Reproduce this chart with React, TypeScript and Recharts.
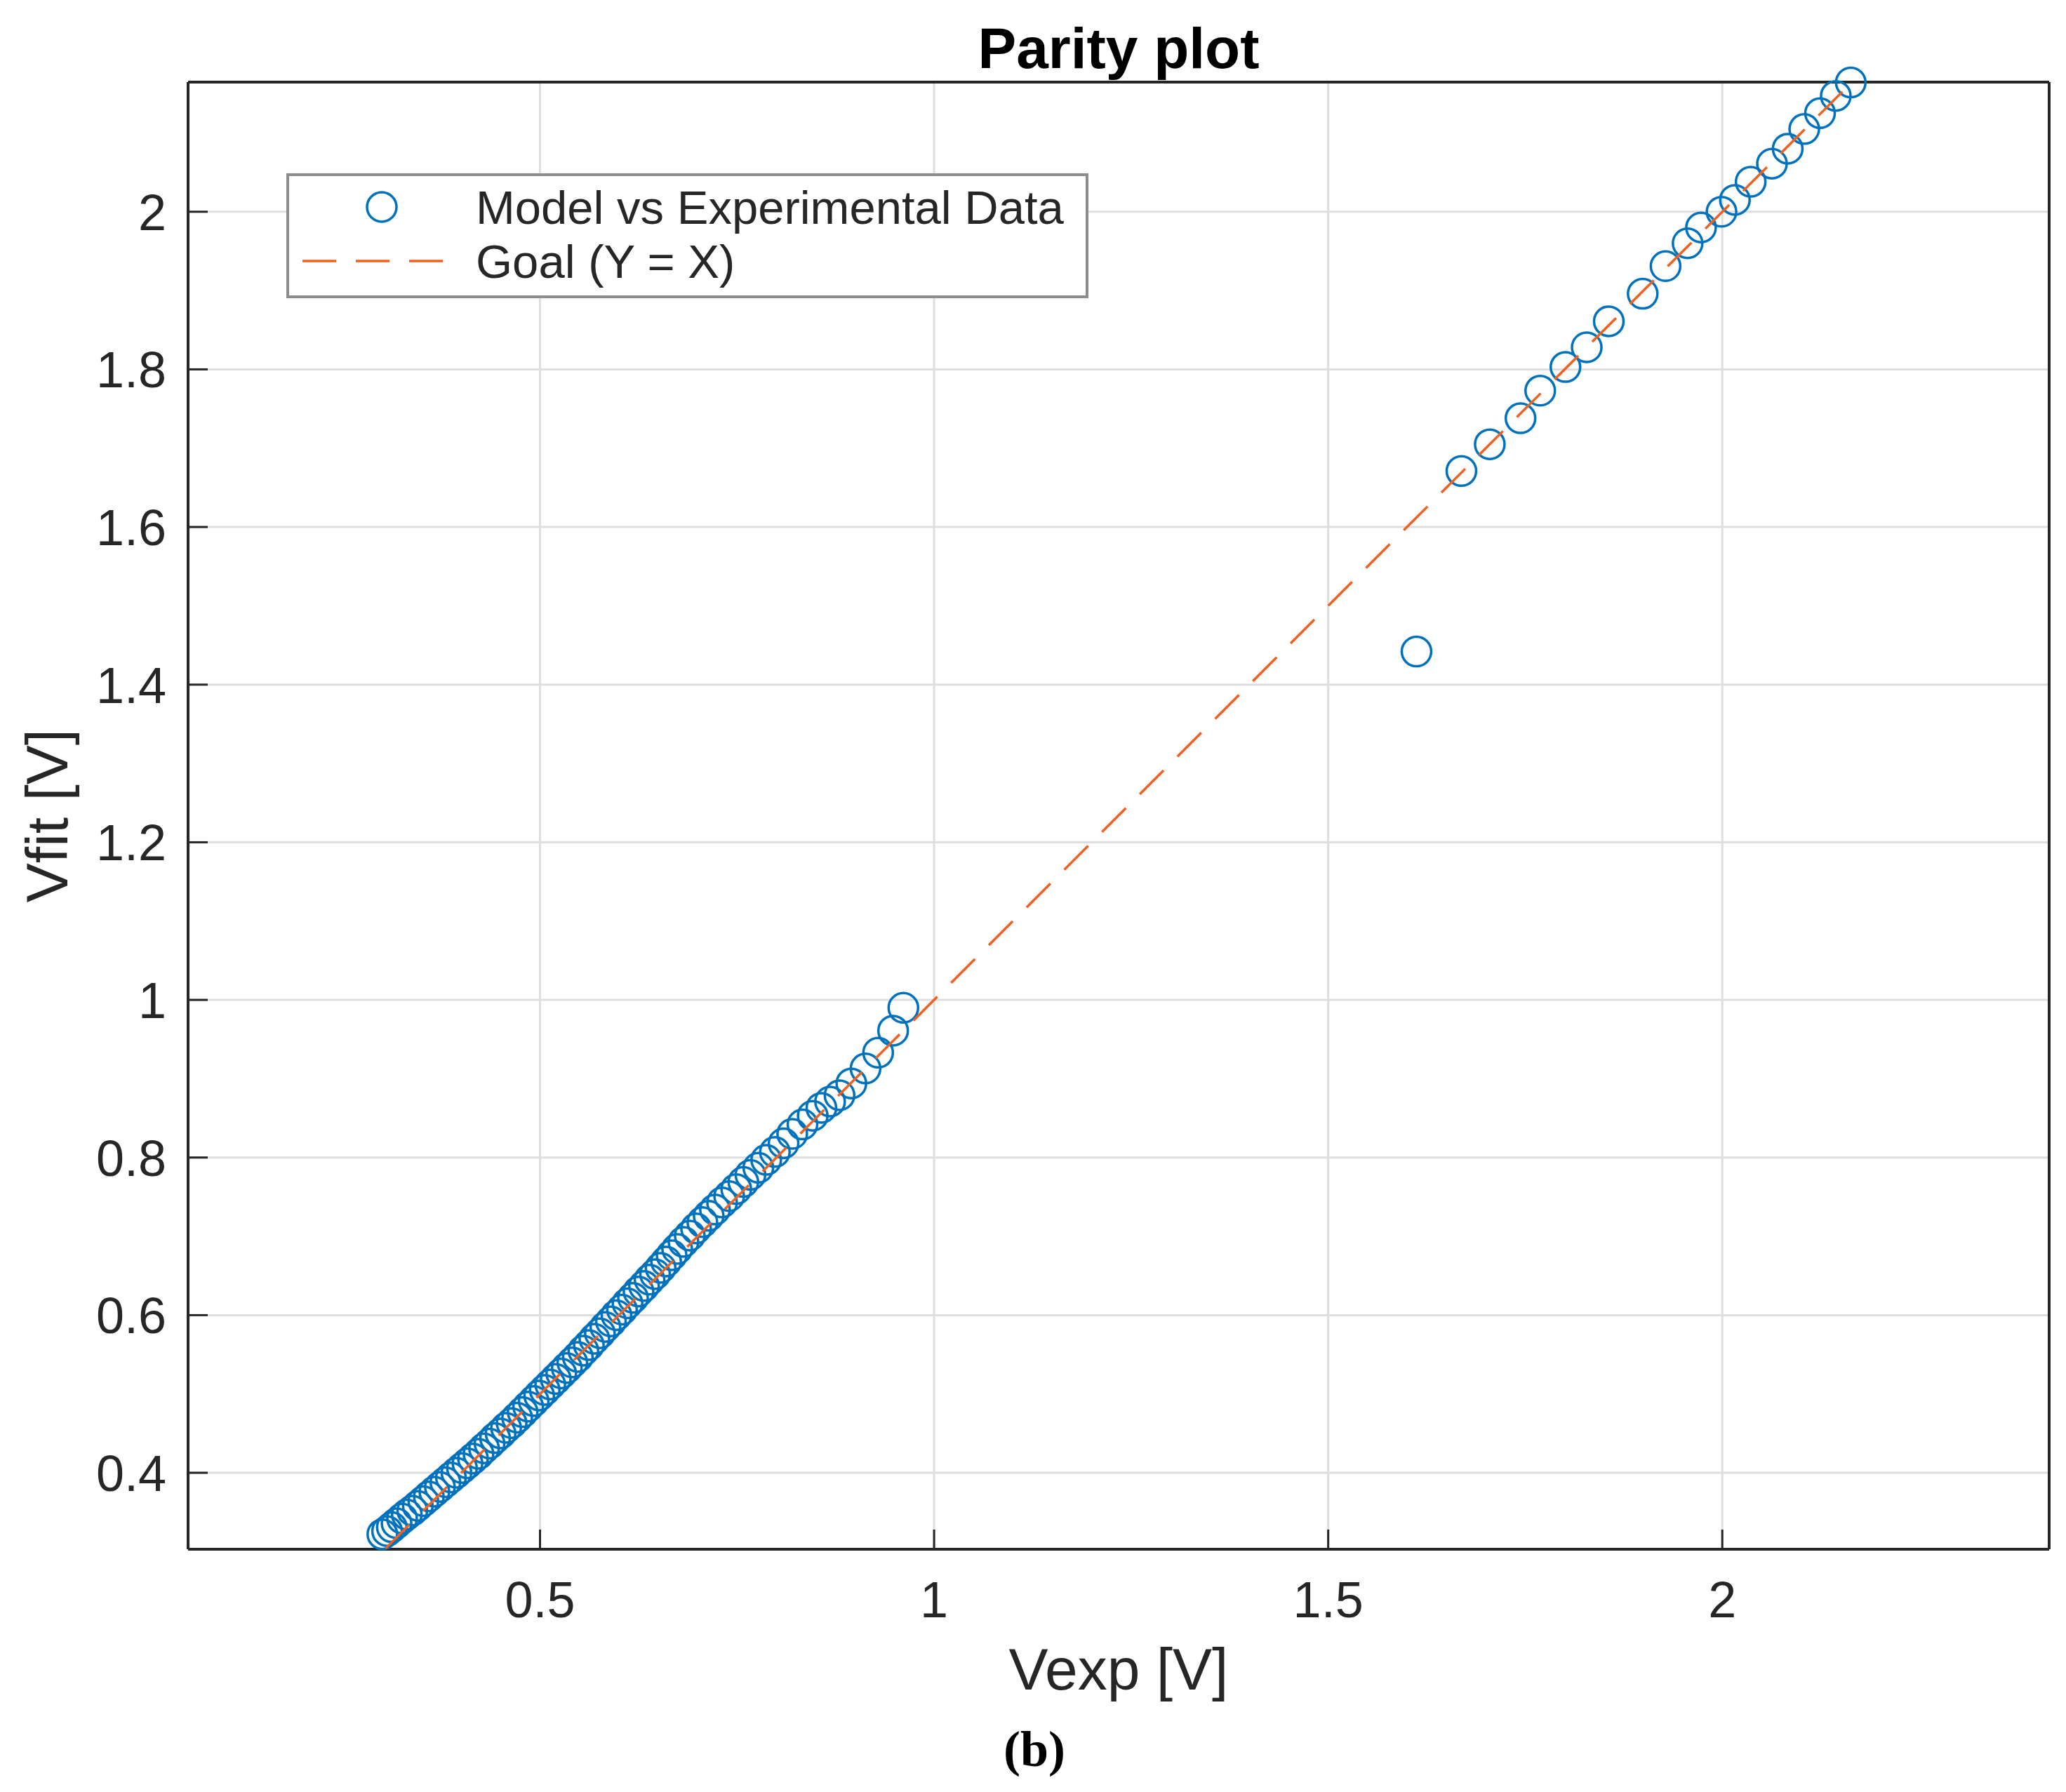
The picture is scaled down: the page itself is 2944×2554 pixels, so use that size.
import React from 'react';
import { ScatterChart, Scatter, XAxis, YAxis, CartesianGrid, Legend } from 'recharts';

// ---- data ----
const vexp = [
  0.300, 0.306, 0.312, 0.318, 0.325, 0.331, 0.338, 0.345, 0.352, 0.359,
  0.366, 0.373, 0.380, 0.387, 0.394, 0.401, 0.408, 0.415, 0.422, 0.429,
  0.436, 0.443, 0.450, 0.457, 0.464, 0.471, 0.478, 0.485, 0.492, 0.499,
  0.506, 0.513, 0.520, 0.527, 0.534, 0.541, 0.548, 0.555, 0.562, 0.569,
  0.576, 0.583, 0.590, 0.597, 0.604, 0.611, 0.618, 0.625, 0.632, 0.639,
  0.646, 0.653, 0.660, 0.667, 0.674, 0.682, 0.690, 0.698, 0.706, 0.714,
  0.722, 0.731, 0.740, 0.749, 0.758, 0.767, 0.777, 0.787, 0.798, 0.809,
  0.820, 0.833, 0.846, 0.857, 0.868, 0.880, 0.895, 0.913, 0.929, 0.948,
  0.961,
  1.612,
  1.669, 1.705, 1.744, 1.769, 1.801, 1.828, 1.856, 1.899, 1.928, 1.956,
  1.973, 1.999, 2.016, 2.036, 2.063, 2.083, 2.104, 2.124, 2.144, 2.163,
];
const vfit = [
  0.322, 0.326, 0.331, 0.336, 0.342, 0.347, 0.352, 0.358, 0.364, 0.370,
  0.376, 0.382, 0.388, 0.394, 0.400, 0.406, 0.412, 0.418, 0.424, 0.431,
  0.437, 0.444, 0.450, 0.457, 0.463, 0.470, 0.477, 0.484, 0.491, 0.498,
  0.505, 0.512, 0.519, 0.526, 0.533, 0.540, 0.547, 0.555, 0.562, 0.570,
  0.577, 0.585, 0.592, 0.600, 0.607, 0.615, 0.622, 0.630, 0.637, 0.645,
  0.652, 0.660, 0.668, 0.676, 0.684, 0.693, 0.701, 0.710, 0.718, 0.726,
  0.734, 0.743, 0.751, 0.760, 0.769, 0.778, 0.787, 0.797, 0.807, 0.818,
  0.830, 0.842, 0.853, 0.863, 0.871, 0.879, 0.894, 0.913, 0.933, 0.961,
  0.990,
  1.442,
  1.671, 1.705, 1.738, 1.773, 1.803, 1.828, 1.861, 1.896, 1.931, 1.960,
  1.980, 2.000, 2.015, 2.038, 2.061, 2.080, 2.105, 2.125, 2.147, 2.164,
];
const goalX = [0.304, 2.163];
const xTicks = [0.5, 1, 1.5, 2];
const yTicks = [0.4, 0.6, 0.8, 1, 1.2, 1.4, 1.6, 1.8, 2];
const xTickLabels = ['0.5', '1', '1.5', '2'];
const yTickLabels = ['0.4', '0.6', '0.8', '1', '1.2', '1.4', '1.6', '1.8', '2'];
const xDomain = [0.0535, 2.4147];
const yDomain = [0.303, 2.1645];

const modelName = 'Model vs Experimental Data';
const goalName = 'Goal (Y = X)';
const titleText = 'Parity plot';
const xLabelText = 'Vexp [V]';
const yLabelText = 'Vfit [V]';
const captionText = '(b)';

const modelData = vexp.map((x, i) => ({ x, y: vfit[i] }));
const goalData = goalX.map((x) => ({ x, y: x }));

// ---- style ----
const W = 2944;
const H = 2554;
const BLUE = '#0072BD';
const ORANGE = '#F0601E';
const AXIS = '#262626';
const FONT = '"Liberation Sans", Arial, Helvetica, sans-serif';
const M = 10;
const TICK = 28;

const fmtX = (v: number) => xTickLabels[xTicks.indexOf(v)] ?? String(v);
const fmtY = (v: number) => yTickLabels[yTicks.indexOf(v)] ?? String(v);

const BottomTick = (p: any) => {
  const ay = p.y - M;
  const v = p.payload.value;
  return (
    <g>
      <line x1={p.x} x2={p.x} y1={ay} y2={ay - TICK} stroke={AXIS} strokeWidth={3} />
      <text x={p.x} y={ay + 97} textAnchor="middle" fontSize={72} fontFamily={FONT} fill={AXIS}>
        {fmtX(v)}
      </text>
    </g>
  );
};
const TopTick = (p: any) => {
  const ay = p.y + M;
  return <line x1={p.x} x2={p.x} y1={ay} y2={ay + TICK} stroke={AXIS} strokeWidth={3} />;
};
const LeftTick = (p: any) => {
  const ax = p.x + M;
  const v = p.payload.value;
  return (
    <g>
      <line x1={ax} x2={ax + TICK} y1={p.y} y2={p.y} stroke={AXIS} strokeWidth={3} />
      <text x={ax - 31} y={p.y + 26} textAnchor="end" fontSize={72} fontFamily={FONT} fill={AXIS}>
        {fmtY(v)}
      </text>
    </g>
  );
};
const RightTick = (p: any) => {
  const ax = p.x - M;
  return <line x1={ax} x2={ax - TICK} y1={p.y} y2={p.y} stroke={AXIS} strokeWidth={3} />;
};

const Ring = (p: any) => (
  <circle cx={p.cx} cy={p.cy} r={21} fill="none" stroke={BLUE} strokeWidth={3.5} />
);
const NoShape = () => <g />;

const LegendBox = () => (
  <svg width={1143} height={178} style={{ display: 'block' }}>
    <rect x={2} y={2} width={1139} height={174} fill="#ffffff" stroke="#8c8c8c" strokeWidth={4} />
    <circle cx={136} cy={48} r={21} fill="none" stroke={BLUE} strokeWidth={3.5} />
    <text x={270} y={48} dominantBaseline="central" fontSize={67} fontFamily={FONT} fill={AXIS}>
      {modelName}
    </text>
    <line x1={23} x2={225} y1={125} y2={125} stroke={ORANGE} strokeWidth={3.5} strokeDasharray="48 28" />
    <text x={270} y={125} dominantBaseline="central" fontSize={67} fontFamily={FONT} fill={AXIS}>
      {goalName}
    </text>
  </svg>
);

const XLabel = (p: any) => {
  const vb = p.viewBox || {};
  return (
    <text x={vb.x + vb.width / 2} y={vb.y + 200} textAnchor="middle" fontSize={84} fontFamily={FONT} fill={AXIS}>
      {xLabelText}
    </text>
  );
};
const YLabel = (p: any) => {
  const vb = p.viewBox || {};
  const cx = 96;
  const cy = vb.y + vb.height / 2;
  return (
    <text x={cx} y={cy} transform={`rotate(-90 ${cx} ${cy})`} textAnchor="middle" fontSize={84} fontFamily={FONT} fill={AXIS}>
      {yLabelText}
    </text>
  );
};

export default function App() {
  return (
    <div style={{ position: 'absolute', left: 0, top: 0, width: W, height: H, background: '#ffffff' }}>
      <ScatterChart width={W} height={H} margin={{ top: 0, right: 0, bottom: 0, left: 0 }}>
        <CartesianGrid stroke="#dedede" strokeWidth={3} horizontalValues={yTicks} verticalValues={xTicks} />
        <XAxis
          dataKey="x"
          type="number"
          domain={xDomain}
          ticks={xTicks}
          interval={0}
          height={346}
          tickSize={0}
          tickMargin={M}
          tickLine={false}
          tick={<BottomTick />}
          axisLine={{ stroke: AXIS, strokeWidth: 4 }}
          label={<XLabel />}
        />
        <XAxis
          xAxisId="top"
          orientation="top"
          dataKey="x"
          type="number"
          domain={xDomain}
          ticks={xTicks}
          interval={0}
          height={117}
          tickSize={0}
          tickMargin={M}
          tickLine={false}
          tick={<TopTick />}
          axisLine={{ stroke: AXIS, strokeWidth: 4 }}
        />
        <YAxis
          dataKey="y"
          type="number"
          domain={yDomain}
          ticks={yTicks}
          interval={0}
          width={268}
          tickSize={0}
          tickMargin={M}
          tickLine={false}
          tick={<LeftTick />}
          axisLine={{ stroke: AXIS, strokeWidth: 4 }}
          label={<YLabel />}
        />
        <YAxis
          yAxisId="right"
          orientation="right"
          dataKey="y"
          type="number"
          domain={yDomain}
          ticks={yTicks}
          interval={0}
          width={24}
          tickSize={0}
          tickMargin={M}
          tickLine={false}
          tick={<RightTick />}
          axisLine={{ stroke: AXIS, strokeWidth: 4 }}
        />
        <Scatter name={modelName} data={modelData} shape={<Ring />} isAnimationActive={false} />
        <Scatter
          name={goalName}
          data={goalData}
          shape={<NoShape />}
          line={{ stroke: ORANGE, strokeWidth: 3.5, strokeDasharray: '48 28' }}
          isAnimationActive={false}
        />
        <Legend
          layout="vertical"
          align="center"
          verticalAlign="middle"
          content={<LegendBox />}
          wrapperStyle={{ left: 408, top: 247, width: 1143, height: 178 }}
        />
      </ScatterChart>
      <div
        style={{
          position: 'absolute',
          left: 1594,
          top: 94,
          transform: 'translate(-50%, -80%)',
          fontFamily: FONT,
          fontWeight: 'bold',
          fontSize: 82,
          lineHeight: '82px',
          color: '#000000',
          whiteSpace: 'nowrap',
        }}
      >
        {titleText}
      </div>
      <div
        style={{
          position: 'absolute',
          left: 1474,
          top: 2515,
          transform: 'translate(-50%, -80%)',
          fontFamily: '"Liberation Serif", "Times New Roman", serif',
          fontWeight: 'bold',
          fontSize: 72,
          lineHeight: '72px',
          color: '#000000',
          whiteSpace: 'nowrap',
        }}
      >
        {captionText}
      </div>
    </div>
  );
}
